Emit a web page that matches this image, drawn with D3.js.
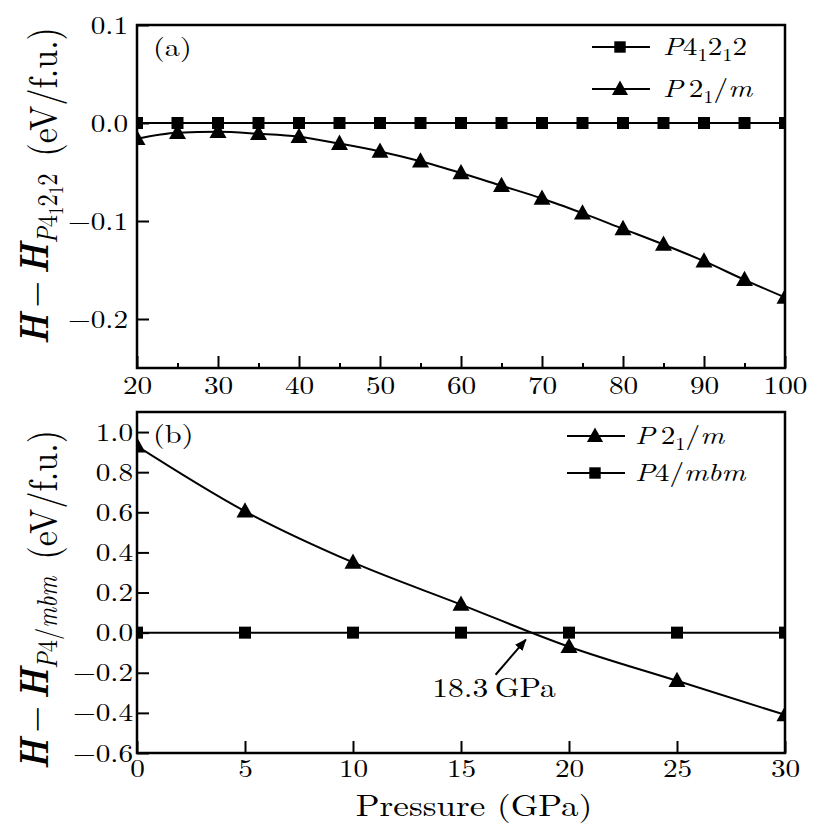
<!DOCTYPE html>
<html><head><meta charset="utf-8">
<script src="https://cdn.jsdelivr.net/npm/d3@7"></script>
<style>body{margin:0;background:#fff}svg{display:block}</style>
</head><body>
<svg id="c" width="817" height="830"></svg>
<script>
// Panel (a)
const pressA = [20,25,30,35,40,45,50,55,60,65,70,75,80,85,90,95,100];
const p41212A = [0,0,0,0,0,0,0,0,0,0,0,0,0,0,0,0,0];
const p21mA = [-0.016,-0.010,-0.009,-0.011,-0.014,-0.021,-0.029,-0.039,-0.051,-0.064,-0.077,-0.092,-0.108,-0.124,-0.141,-0.160,-0.178];
const xTicksA = [20,25,30,35,40,45,50,55,60,65,70,75,80,85,90,95,100];
const yTicksA = [0.1,0.0,-0.1,-0.2];
// Panel (b)
const pressB = [0,5,10,15,20,25,30];
const p21mB = [0.93,0.605,0.35,0.14,-0.07,-0.24,-0.41];
const p4mbmB = [0,0,0,0,0,0,0];
const xTicksB = [0,5,10,15,20,25,30];
const yTicksB = [1.0,0.8,0.6,0.4,0.2,0.0,-0.2,-0.4,-0.6];
const crossing = 18.3;

const FONT = '"Latin Modern Roman","Liberation Serif",serif';
const SX = 1.17;   // horizontal stretch of glyphs
const FS = 25;
const svg = d3.select("#c");

function txt(parent,x,y,size,anchor){
  return parent.append("text").attr("transform",`translate(${x},${y}) scale(${SX},1)`)
    .attr("text-anchor",anchor||"start").style("font-family",FONT).style("font-size",size+"px").attr("fill","#000");
}

function marker(g,m,cx,cy,k=1){
  if(m==="s"){
    const s=12*k;
    g.append("rect").attr("x",cx-s/2).attr("y",cy-s/2).attr("width",s).attr("height",s).attr("fill","#000");
  } else {
    const w=17*k, h=15*k;
    g.append("path").attr("d",`M${cx},${cy-h*0.6}L${cx+w/2},${cy+h*0.42}L${cx-w/2},${cy+h*0.42}Z`).attr("fill","#000");
  }
}

function panel(opt){
  const g = svg.append("g");
  const x = d3.scaleLinear().domain(opt.xd).range([137,785]);
  const y = d3.scaleLinear().domain(opt.yd).range([opt.bottom,opt.top]);
  const cid = "clip"+opt.id;
  svg.append("clipPath").attr("id",cid).append("rect")
    .attr("x",137).attr("y",opt.top).attr("width",648).attr("height",opt.bottom-opt.top);
  const ax = g.append("g").attr("transform",`translate(0,${opt.bottom})`)
    .call(d3.axisBottom(x).tickValues(opt.xt).tickSize(-12).tickPadding(opt.xpad)
      .tickFormat(d => opt.xl(d) ? d3.format("d")(d) : ""));
  const ay = g.append("g").attr("transform",`translate(137,0)`)
    .call(d3.axisLeft(y).tickValues(opt.yt).tickSize(-12).tickPadding(opt.ypad)
      .tickFormat(d3.format(".1f")));
  [ax,ay].forEach(a=>{
    a.select(".domain").remove();
    a.selectAll(".tick line").attr("stroke","#000").attr("stroke-width",2);
    a.selectAll("text").style("font-family",FONT).style("font-size",FS+"px").attr("fill","#000");
  });
  ax.selectAll(".tick").each(function(d){ if(!opt.xl(d)) d3.select(this).select("line").attr("y2",-5); });
  ax.selectAll("text").attr("transform",`scale(${SX},1)`);
  ay.selectAll("text").attr("x",-opt.ypad/SX).attr("transform",`scale(${SX},1)`);
  g.append("rect").attr("x",137).attr("y",opt.top).attr("width",648).attr("height",opt.bottom-opt.top)
    .attr("fill","none").attr("stroke","#000").attr("stroke-width",2.5);
  const pg = g.append("g").attr("clip-path",`url(#${cid})`);
  const line = d3.line().curve(d3.curveMonotoneX);
  opt.series.forEach(s=>{
    const pts = opt.xs.map((v,i)=>[x(v),y(s.v[i])]);
    pg.append("path").attr("d",line(pts)).attr("fill","none").attr("stroke","#000").attr("stroke-width",2);
    pts.forEach(p=>marker(pg,s.m,p[0],p[1]));
  });
  opt.series.forEach((s,i)=>{
    const ly = opt.legY + i*opt.legDy;
    g.append("line").attr("x1",opt.legX).attr("x2",opt.legX+58).attr("y1",ly).attr("y2",ly)
      .attr("stroke","#000").attr("stroke-width",2);
    marker(g,s.m,opt.legX+28,ly,0.95);
    const t = txt(g,opt.legX+opt.legT,ly+8,25);
    s.label(t);
  });
  txt(g,153,opt.top+31,26).text(opt.tag);
  return {x,y,g};
}
function labP41212(t){
  t.append("tspan").style("font-style","italic").text("P");
  t.append("tspan").text("4");
  t.append("tspan").attr("dy",6).style("font-size","0.7em").text("1");
  t.append("tspan").attr("dy",-6).text("2");
  t.append("tspan").attr("dy",6).style("font-size","0.7em").text("1");
  t.append("tspan").attr("dy",-6).text("2");
}
function labP21m(t){
  t.append("tspan").style("font-style","italic").text("P");
  t.append("tspan").text("\u20092");
  t.append("tspan").attr("dy",6).style("font-size","0.7em").text("1");
  t.append("tspan").attr("dy",-6).text("/");
  t.append("tspan").style("font-style","italic").text("m");
}
function labP4mbm(t){
  t.append("tspan").style("font-style","italic").text("P");
  t.append("tspan").text("4/");
  t.append("tspan").style("font-style","italic").text("mbm");
}

const A = panel({id:"a",xd:[20,100],yd:[-0.25,0.1],top:25,bottom:368,xs:pressA,xt:xTicksA,yt:yTicksA,
  xl:d=>d%10===0, xpad:8, ypad:9, legX:592, legY:47, legDy:42, legT:71, tag:"(a)",
  series:[{v:p41212A,m:"s",label:labP41212},{v:p21mA,m:"t",label:labP21m}]});
const B = panel({id:"b",xd:[0,30],yd:[-0.6,1.1],top:412,bottom:753,xs:pressB,xt:xTicksB,yt:yTicksB,
  xl:d=>true, xpad:6, ypad:4, legX:567, legY:436, legDy:37, legT:68, tag:"(b)",
  series:[{v:p21mB,m:"t",label:labP21m},{v:p4mbmB,m:"s",label:labP4mbm}]});

// annotation arrow
svg.append("defs").append("marker").attr("id","ah").attr("viewBox","0 0 10 10").attr("refX",9).attr("refY",5)
  .attr("markerWidth",6).attr("markerHeight",6).attr("orient","auto")
  .append("path").attr("d","M0,1L10,5L0,9Z").attr("fill","#000");
svg.append("line").attr("x1",B.x(16.6)).attr("y1",B.y(-0.21)).attr("x2",B.x(18.0)).attr("y2",B.y(-0.035))
  .attr("stroke","#000").attr("stroke-width",2).attr("marker-end","url(#ah)");
txt(svg,494,697,27,"middle").text(crossing+"\u2009GPa");

// x-axis title
txt(svg,474,816,30,"middle").text("Pressure (GPa)");

// y titles
function ytitle(cy,subfn){
  const t = svg.append("text").attr("transform",`translate(48,${cy}) rotate(-90) scale(1,1.18)`)
    .attr("text-anchor","middle").style("font-family",FONT).style("font-size","34px").attr("fill","#000");
  t.append("tspan").style("font-style","italic").style("font-weight","bold").text("H");
  t.append("tspan").text("\u2009\u2212\u2009");
  t.append("tspan").style("font-style","italic").style("font-weight","bold").text("H");
  subfn(t);
  t.append("tspan").text("\u2002(eV/f.u.)");
}
ytitle(186,t=>{
  t.append("tspan").attr("dy",8).style("font-size","0.72em").style("font-style","italic").text("P");
  t.append("tspan").style("font-size","0.72em").text("4");
  t.append("tspan").attr("dy",5).style("font-size","0.5em").text("1");
  t.append("tspan").attr("dy",-5).style("font-size","0.72em").text("2");
  t.append("tspan").attr("dy",5).style("font-size","0.5em").text("1");
  t.append("tspan").attr("dy",-5).style("font-size","0.72em").text("2");
  t.append("tspan").attr("dy",-8).text("");
});
ytitle(600,t=>{
  t.append("tspan").attr("dy",8).style("font-size","0.72em").style("font-style","italic").text("P");
  t.append("tspan").style("font-size","0.72em").text("4/");
  t.append("tspan").style("font-size","0.72em").style("font-style","italic").text("mbm");
  t.append("tspan").attr("dy",-8).text("");
});
</script>
</body></html>
